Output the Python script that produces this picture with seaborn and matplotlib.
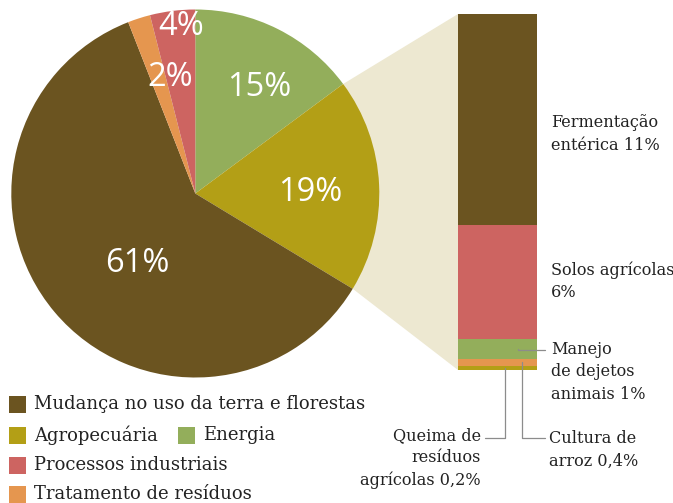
import numpy as np
import matplotlib
matplotlib.use("Agg")
import matplotlib.pyplot as plt
from matplotlib.patches import Polygon, Rectangle
import seaborn as sns

# Emission shares by sector (%)
sectors = ["Mudança no uso da terra e florestas", "Agropecuária", "Energia",
           "Processos industriais", "Tratamento de resíduos"]
sector_pct = [61, 19, 15, 4, 2]
sector_colors = ["#6B5420", "#B39F16", "#93AE5B", "#CD6461", "#E5964F"]

# Breakdown of the agriculture share (%), top of the bar first
agro_parts = ["Fermentação\nentérica 11%", "Solos agrícolas\n6%",
              "Manejo\nde dejetos\nanimais 1%", "Cultura de\narroz 0,4%",
              "Queima de\nresíduos\nagrícolas 0,2%"]
agro_pct = [11, 6, 1, 0.4, 0.2]
agro_colors = ["#6B5420", "#CD6461", "#93AE5B", "#E5964F", "#B39F16"]

sns.set_theme(style="white")
plt.rcParams["font.family"] = ["DejaVu Serif"]

W, H = 673, 503
fig = plt.figure(figsize=(W / 100, H / 100), dpi=100)
fig.patch.set_facecolor("white")


def fx(x):
    return x / W


def fy(y):
    return 1 - y / H


# ---- pie ----
cx, cy, r = 195.3, 193.5, 184.0
ax_pie = fig.add_axes([fx(cx - r), fy(cy + r), 2 * r / W, 2 * r / H])
pie_order = [2, 1, 0, 4, 3]  # clockwise from 12 o'clock
wedges, _ = ax_pie.pie([sector_pct[i] for i in pie_order],
                       colors=[sector_colors[i] for i in pie_order],
                       startangle=90, counterclock=False,
                       wedgeprops=dict(linewidth=0))
ax_pie.set_xlim(-1, 1)
ax_pie.set_ylim(-1, 1)
ax_pie.set_aspect("equal")
ax_pie.axis("off")

pie_label_pos = {2: (0.348, 0.576), 1: (0.625, 0.005), 0: (-0.315, -0.38),
                 4: (-0.136, 0.63), 3: (-0.076, 0.905)}
for i, (lx, ly) in pie_label_pos.items():
    ax_pie.text(lx, ly, f"{sector_pct[i]}%", color="white", fontsize=23.5,
                family=["Open Sans", "DejaVu Sans"], ha="center", va="center")

# ---- stacked bar for agriculture ----
bar_left, bar_right, bar_top, bar_bottom = 458, 537, 14, 370
ax_bar = fig.add_axes([fx(bar_left), fy(bar_bottom),
                       (bar_right - bar_left) / W, (bar_bottom - bar_top) / H])
bottom = 0.0
seg_mid = {}
for name, val, col in reversed(list(zip(agro_parts, agro_pct, agro_colors))):
    sns.barplot(x=[0], y=[val], bottom=bottom, color=col, saturation=1,
                width=1.0, linewidth=0, ax=ax_bar)
    seg_mid[name] = bottom + val / 2
    bottom += val
total = bottom
ax_bar.set_xlim(-0.5, 0.5)
ax_bar.set_ylim(0, total)
ax_bar.axis("off")

# ---- connector between the agriculture wedge and the bar ----
fig.canvas.draw()
agro_wedge = wedges[1]
to_fig = fig.transFigure.inverted()
t1, t2 = np.radians(agro_wedge.theta1), np.radians(agro_wedge.theta2)
pts_pie = [(np.cos(t2), np.sin(t2)), (np.cos(t1), np.sin(t1))]
pie_fig = [to_fig.transform(ax_pie.transData.transform(p)) for p in pts_pie]
bar_fig = [to_fig.transform(ax_bar.transData.transform(p))
           for p in [(-0.5, total), (-0.5, 0)]]
poly = Polygon([pie_fig[0], bar_fig[0], bar_fig[1], pie_fig[1]], closed=True,
               transform=fig.transFigure, facecolor="#EDE8D1", edgecolor="none",
               zorder=-1)
fig.add_artist(poly)

# ---- bar labels ----
txt_kw = dict(fontsize=11.6, color="#222222", linespacing=1.4)
fig.text(fx(551), fy(134), agro_parts[0], ha="left", va="center", **txt_kw)
fig.text(fx(551), fy(281), agro_parts[1], ha="left", va="center", **txt_kw)
fig.text(fx(551), fy(372), agro_parts[2], ha="left", va="center", **txt_kw)
fig.text(fx(549), fy(450), agro_parts[3], ha="left", va="center", **txt_kw)
fig.text(fx(481), fy(458), agro_parts[4], ha="right", va="center", **txt_kw)


def px_to_bar_x(px):
    return -0.5 + (px - bar_left) / (bar_right - bar_left)


line_kw = dict(arrowstyle="-", color="#8c8c8c", lw=0.9, shrinkA=0, shrinkB=0)
elbow = "angle,angleA=0,angleB=90,rad=0"
ax_bar.annotate("", xy=(px_to_bar_x(518), seg_mid[agro_parts[2]]), xycoords="data",
                xytext=(545, H - 350), textcoords="figure pixels",
                arrowprops=dict(connectionstyle=elbow, **line_kw),
                annotation_clip=False)
ax_bar.annotate("", xy=(px_to_bar_x(522), seg_mid[agro_parts[3]]), xycoords="data",
                xytext=(545, H - 438), textcoords="figure pixels",
                arrowprops=dict(connectionstyle=elbow, **line_kw),
                annotation_clip=False)
ax_bar.annotate("", xy=(px_to_bar_x(505), seg_mid[agro_parts[4]]), xycoords="data",
                xytext=(485, H - 438), textcoords="figure pixels",
                arrowprops=dict(connectionstyle=elbow, **line_kw),
                annotation_clip=False)

# ---- legend ----
leg_kw = dict(fontsize=13, color="#222222", va="center", ha="left")
legend_rows = [(0, 9, 404), (1, 9, 435), (2, 178, 435), (3, 9, 465), (4, 9, 494)]
for idx, x0, yc in legend_rows:
    fig.add_artist(Rectangle((fx(x0), fy(yc + 8.5)), 17 / W, 17 / H,
                             transform=fig.transFigure,
                             facecolor=sector_colors[idx], edgecolor="none"))
    fig.text(fx(x0 + 25), fy(yc), sectors[idx], **leg_kw)

fig.savefig("out.png", dpi=100)
